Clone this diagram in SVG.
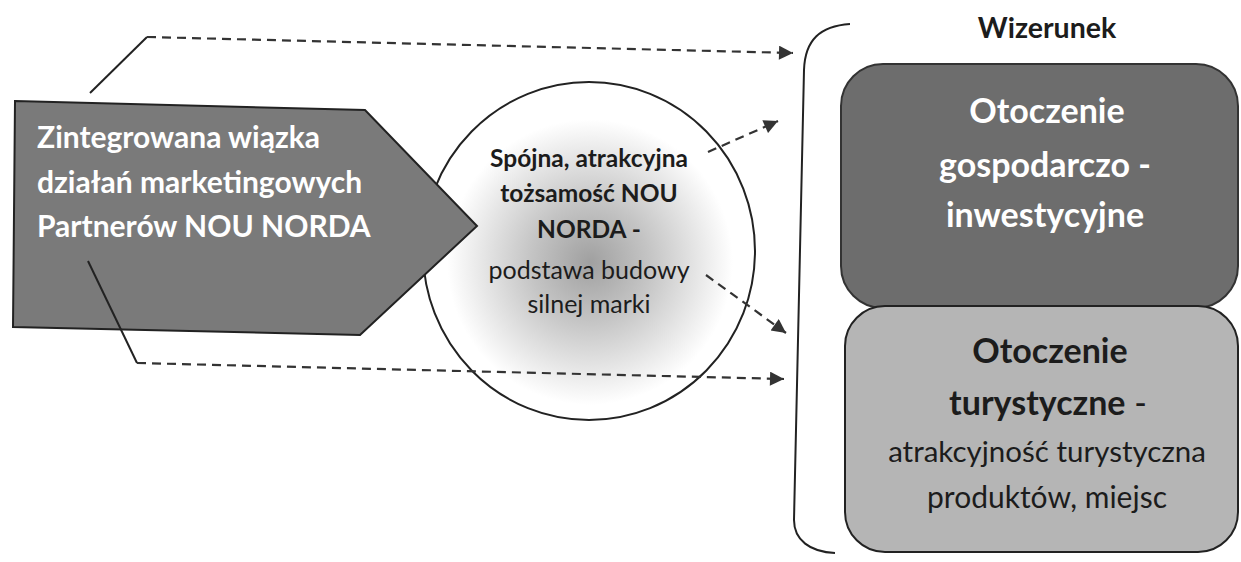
<svg xmlns="http://www.w3.org/2000/svg" width="1241" height="562" viewBox="0 0 1241 562">
<defs>
<style>
.solid{stroke:#222;stroke-width:2;fill:none}
.dash{stroke:#333;stroke-width:2.2;fill:none;stroke-dasharray:9 6}
.t{font-family:Lato,"Open Sans","Liberation Sans",sans-serif}
.b{font-weight:bold}
.w{fill:#fff}
.k{fill:#1c1c1c}
.c{text-anchor:middle}
</style>
<marker id="ah" viewBox="0 0 10 10" refX="10" refY="5" markerWidth="16" markerHeight="14" markerUnits="userSpaceOnUse" orient="auto"><path d="M0,0 L10,5 L0,10 z" fill="#333"/></marker>
<radialGradient id="cg" cx="590" cy="262" r="168" gradientUnits="userSpaceOnUse"><stop offset="0" stop-color="#a0a0a0"/><stop offset="0.35" stop-color="#c4c4c4"/><stop offset="0.85" stop-color="#ffffff"/></radialGradient>
</defs>
<g id="bracket"><path class="solid" d="M850,24 C820,26 805,40 804,70 L794,520 C794,540 810,552 835,553"/></g>
<g id="circle">
<ellipse cx="589" cy="251" rx="166" ry="169" fill="url(#cg)" stroke="#222" stroke-width="2"/>
<text class="t k c b" font-size="24.5" x="589" y="167">Spójna, atrakcyjna</text>
<text class="t k c b" font-size="24.5" x="589" y="202">tożsamość NOU</text>
<text class="t k c b" font-size="24.5" x="589" y="238">NORDA -</text>
<text class="t k c" font-size="25" x="589" y="279">podstawa budowy</text>
<text class="t k c" font-size="25" x="589" y="313">silnej marki</text>
</g>
<g id="pentagon">
<polygon points="15,101 365,110 477,226 360,335 13,327" fill="#7a7a7a" stroke="#222" stroke-width="2"/>
<text class="t w b" font-size="30" x="37" y="148">Zintegrowana wiązka</text>
<text class="t w b" font-size="30" x="37" y="193">działań marketingowych</text>
<text class="t w b" font-size="30" x="37" y="237">Partnerów NOU NORDA</text>
</g>
<g id="title"><text class="t k c b" font-size="28.5" x="1047" y="38">Wizerunek</text></g>
<g id="box-gospodarcze">
<rect x="841" y="64" width="397" height="244" rx="42" fill="#6d6d6d" stroke="#333" stroke-width="2"/>
<text class="t w c b" font-size="34" x="1047" y="123">Otoczenie</text>
<text class="t w c b" font-size="34" x="1045" y="177">gospodarczo -</text>
<text class="t w c b" font-size="34" x="1045" y="227">inwestycyjne</text>
</g>
<g id="box-turystyczne">
<rect x="845" y="306" width="393" height="246" rx="40" fill="#b5b5b5" stroke="#222" stroke-width="2"/>
<text class="t k c b" font-size="34" x="1050" y="363">Otoczenie</text>
<text class="t k c" font-size="34" x="1048" y="415"><tspan class="b">turystyczne</tspan> -</text>
<text class="t k c" font-size="29.5" x="1047" y="462">atrakcyjność turystyczna</text>
<text class="t k c" font-size="30" x="1047" y="508">produktów, miejsc</text>
</g>
<g id="connectors">
<path class="solid" d="M90,93 L147,37"/>
<path class="dash" d="M147,37 L793,53" marker-end="url(#ah)"/>
<path class="solid" d="M88,261 L137,363"/>
<path class="dash" d="M137,363 L784,379" marker-end="url(#ah)"/>
<path class="dash" d="M708,152 L778,121" marker-end="url(#ah)"/>
<path class="dash" d="M706,275 L786,333" marker-end="url(#ah)"/>
</g>
</svg>
